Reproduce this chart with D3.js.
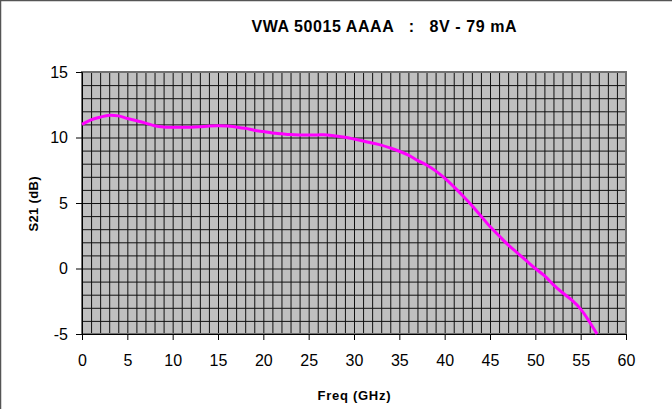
<!DOCTYPE html>
<html>
<head>
<meta charset="utf-8">
<script src="https://cdn.jsdelivr.net/npm/d3@7"></script>
<style>
  body { margin: 0; background: #fff; }
  text { font-family: "Liberation Sans", Arial, sans-serif; }
</style>
</head>
<body>
<script>
// frequency (GHz) and S21 (dB)
var freq = [0, 1, 2, 3, 4, 5, 6, 7, 8, 9, 10, 11, 12, 13, 14, 15, 16, 17, 18, 19,
            20, 21, 22, 23, 24, 25, 26, 27, 28, 29, 30, 31, 32, 33, 34, 35, 36, 37, 38, 39,
            40, 41, 42, 43, 44, 45, 46, 47, 48, 49, 50, 51, 52, 53, 54, 55, 56, 56.8];
var s21 = [11.0, 11.35, 11.55, 11.7, 11.65, 11.45, 11.28, 11.1, 10.9, 10.8,
           10.78, 10.78, 10.78, 10.82, 10.88, 10.9, 10.88, 10.8, 10.7, 10.55,
           10.45, 10.35, 10.28, 10.22, 10.2, 10.2, 10.2, 10.2, 10.12, 10.02,
           9.88, 9.73, 9.58, 9.42, 9.2, 8.95, 8.65, 8.25, 7.9, 7.45,
           6.9, 6.25, 5.55, 4.8, 4.0, 3.2, 2.5, 1.8, 1.2, 0.6,
           0.0, -0.55, -1.25, -1.85, -2.4, -3.1, -4.1, -5.0];
var xTicks = [0, 5, 10, 15, 20, 25, 30, 35, 40, 45, 50, 55, 60];
var yTicks = [-5, 0, 5, 10, 15];

var W = 672, H = 409;
var plot = { left: 82, right: 626, top: 72, bottom: 334 };

var svg = d3.select("body").append("svg")
    .attr("width", W)
    .attr("height", H);

// outer chart frame (only left/top visible)
svg.append("rect")
    .attr("x", 0.5).attr("y", 0.5)
    .attr("width", W + 10).attr("height", H + 10)
    .attr("fill", "#fff")
    .attr("stroke", "#555")
    .attr("stroke-width", 1.5);

var x = d3.scaleLinear().domain([0, 60]).range([plot.left, plot.right]);
var y = d3.scaleLinear().domain([-5, 15]).range([plot.bottom, plot.top]);

// plot background
svg.append("rect")
    .attr("x", plot.left).attr("y", plot.top)
    .attr("width", plot.right - plot.left)
    .attr("height", plot.bottom - plot.top)
    .attr("fill", "#c0c0c0");

// dense grid: every 1 GHz, every 1 dB
var grid = svg.append("g").attr("class", "grid");
grid.append("g")
    .attr("transform", "translate(0," + plot.bottom + ")")
    .call(d3.axisBottom(x).tickValues(d3.range(1, 60, 1))
        .tickSize(-(plot.bottom - plot.top)).tickFormat(""));
grid.append("g")
    .attr("transform", "translate(" + plot.left + ",0)")
    .call(d3.axisLeft(y).tickValues(d3.range(-4, 15, 1))
        .tickSize(-(plot.right - plot.left)).tickFormat(""));
grid.selectAll(".domain").remove();
grid.selectAll("line")
    .attr("stroke", "#111")
    .attr("stroke-width", 1);

// plot border
svg.append("rect")
    .attr("x", plot.left).attr("y", plot.top)
    .attr("width", plot.right - plot.left)
    .attr("height", plot.bottom - plot.top)
    .attr("fill", "none")
    .attr("stroke", "#707070")
    .attr("stroke-width", 2);

// axes
var plain = function(d) { return String(d); };
var xAxis = svg.append("g")
    .attr("transform", "translate(0," + plot.bottom + ")")
    .call(d3.axisBottom(x).tickValues(xTicks).tickSize(6).tickPadding(15).tickFormat(plain));
var yAxis = svg.append("g")
    .attr("transform", "translate(" + plot.left + ",0)")
    .call(d3.axisLeft(y).tickValues(yTicks).tickSize(6).tickPadding(8).tickFormat(plain));

[xAxis, yAxis].forEach(function(a) {
    a.select(".domain").attr("stroke", "#000").attr("stroke-width", 1);
    a.selectAll(".tick line").attr("stroke", "#000");
    a.selectAll(".tick text")
        .attr("fill", "#000")
        .style("font-family", "'Liberation Sans', Arial, sans-serif")
        .style("font-size", "16px");
});

// S21 curve
var line = d3.line()
    .x(function(d, i) { return x(freq[i]); })
    .y(function(d) { return y(d); })
    .curve(d3.curveCatmullRom);

svg.append("path")
    .datum(s21)
    .attr("d", line)
    .attr("fill", "none")
    .attr("stroke", "#ff00ff")
    .attr("stroke-width", 3);

// titles
svg.append("text")
    .attr("x", 384).attr("y", 32)
    .attr("text-anchor", "middle")
    .attr("xml:space", "preserve")
    .style("white-space", "pre")
    .style("font-weight", "bold")
    .style("font-size", "16px")
    .attr("textLength", 265)
    .attr("lengthAdjust", "spacing")
    .text("VWA 50015 AAAA   :   8V - 79 mA");

svg.append("text")
    .attr("x", 354).attr("y", 400)
    .attr("text-anchor", "middle")
    .style("font-weight", "bold")
    .style("font-size", "13px")
    .attr("textLength", 73)
    .attr("lengthAdjust", "spacing")
    .text("Freq (GHz)");

svg.append("text")
    .attr("transform", "translate(38,204) rotate(-90)")
    .attr("text-anchor", "middle")
    .style("font-weight", "bold")
    .style("font-size", "13px")
    .attr("textLength", 55)
    .attr("lengthAdjust", "spacing")
    .text("S21 (dB)");
</script>
</body>
</html>
